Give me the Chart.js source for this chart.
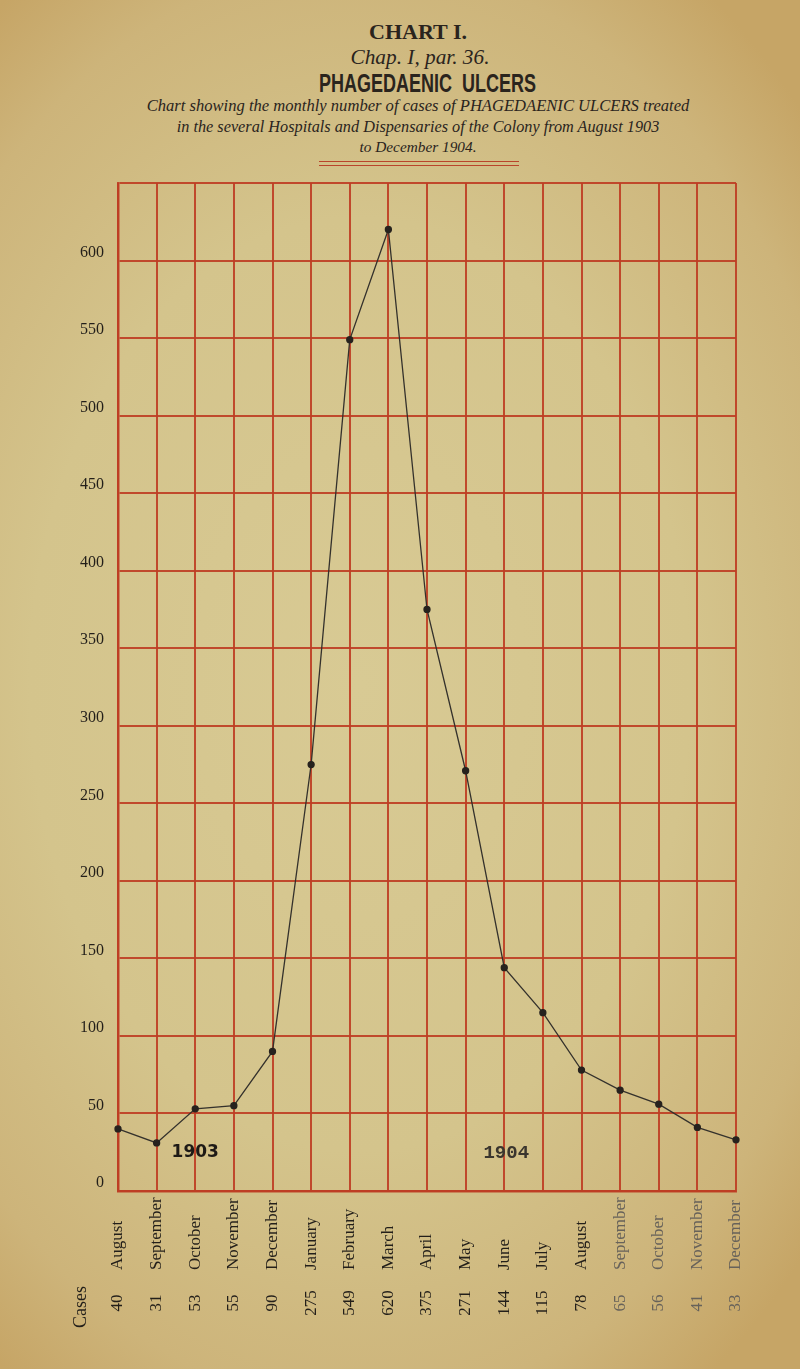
<!DOCTYPE html>
<html>
<head>
<meta charset="utf-8">
<script src="https://cdn.jsdelivr.net/npm/chart.js@4"></script>
<style>
  html, body { margin: 0; padding: 0; }
  body {
    width: 800px; height: 1369px; position: relative; overflow: hidden;
    background: radial-gradient(ellipse 75% 62% at 45% 50%, #d8ca94 0%, #d4c48c 55%, #cdb47a 85%, #c6a566 100%);
  }
  .t { position: absolute; left: 0; white-space: nowrap; color: #2a241d; line-height: 1; }
  .t span { display: inline-block; }
  #rule { position: absolute; left: 319px; width: 200px; top: 161px; height: 3px;
          border-top: 1.5px solid #b9452b; border-bottom: 1.5px solid #b9452b; }
  canvas { position: absolute; left: 0; top: 0; }
</style>
</head>
<body>
<div class="t" id="l1" style="font-family:'Liberation Serif'; font-weight:bold; font-size:22px;"><span>CHART I.</span></div>
<div class="t" id="l2" style="font-family:'Liberation Serif'; font-style:italic; font-size:19px;"><span>Chap. I, par. 36.</span></div>
<div class="t" id="l3" style="font-family:'Liberation Sans'; font-weight:bold; font-size:25px;"><span>PHAGEDAENIC&nbsp;&nbsp;ULCERS</span></div>
<div class="t" id="l4" style="font-family:'Liberation Serif'; font-style:italic; font-size:17px;"><span>Chart showing the monthly number of cases of PHAGEDAENIC ULCERS treated</span></div>
<div class="t" id="l5" style="font-family:'Liberation Serif'; font-style:italic; font-size:17px;"><span>in the several Hospitals and Dispensaries of the Colony from August 1903</span></div>
<div class="t" id="l6" style="font-family:'Liberation Serif'; font-style:italic; font-size:17px;"><span>to December 1904.</span></div>
<div id="rule"></div>
<canvas id="c" width="800" height="1369"></canvas>
<script>
// ---- data ----
const months = ['August','September','October','November','December','January','February','March','April','May','June','July','August','September','October','November','December'];
const cases = [40, 31, 53, 55, 90, 275, 549, 620, 375, 271, 144, 115, 78, 65, 56, 41, 33];
const yTickLabels = [0, 50, 100, 150, 200, 250, 300, 350, 400, 450, 500, 550, 600];
const yearLabels = ['1903', '1904'];
const casesTitle = 'Cases';

// ---- title fitting (center x, center y, target width, mode) ----
function place(id, cx, cy, w, condensed) {
  const el = document.getElementById(id);
  const sp = el.firstElementChild;
  const r = sp.getBoundingClientRect();
  if (condensed) {
    const s = w / r.width;
    sp.style.transform = 'scaleX(' + s + ')';
    sp.style.transformOrigin = 'left center';
    el.style.left = (cx - w / 2) + 'px';
  } else {
    const fs = parseFloat(el.style.fontSize) * w / r.width;
    el.style.fontSize = fs + 'px';
    const r2 = sp.getBoundingClientRect();
    el.style.left = (cx - r2.width / 2) + 'px';
  }
  const r3 = sp.getBoundingClientRect();
  el.style.top = (cy - r3.height / 2) + 'px';
}
place('l1', 418, 32, 98, true);
place('l2', 420, 58, 139, false);
place('l3', 427, 83, 217, true);
place('l4', 418, 106, 543, false);
place('l5', 418, 127, 483, false);
place('l6', 418, 147, 117, false);

const red = 'rgba(190, 62, 36, 0.92)';

const annotations = {
  id: 'annotations',
  afterDraw(chart) {
    const ctx = chart.ctx;
    const xs = chart.scales.x;
    const a = chart.chartArea;
    ctx.save();
    // month labels, reading upward, starting below the frame
    months.forEach((m, i) => {
      const px = xs.getPixelForValue(i);
      ctx.save();
      ctx.translate(px, a.bottom + 79);
      ctx.rotate(-Math.PI / 2);
      ctx.font = '17px "Liberation Serif"';
      ctx.fillStyle = i >= 13 ? '#67625a' : '#231f1a';
      ctx.textAlign = 'left';
      ctx.textBaseline = 'middle';
      ctx.fillText(m, 0, 0);
      ctx.restore();
      // case counts
      ctx.save();
      ctx.translate(px, a.bottom + 112);
      ctx.rotate(-Math.PI / 2);
      ctx.font = '17px "Liberation Serif"';
      ctx.fillStyle = i >= 13 ? '#67625a' : '#231f1a';
      ctx.textAlign = 'center';
      ctx.textBaseline = 'middle';
      ctx.fillText(String(cases[i]), 0, 0);
      ctx.restore();
    });
    // "Cases"
    ctx.save();
    ctx.translate(a.left - 37, a.bottom + 116);
    ctx.rotate(-Math.PI / 2);
    ctx.font = '18px "Liberation Serif"';
    ctx.fillStyle = '#231f1a';
    ctx.textAlign = 'center';
    ctx.textBaseline = 'middle';
    ctx.fillText(casesTitle, 0, 0);
    ctx.restore();
    // year marks inside the grid
    ctx.textAlign = 'center';
    ctx.textBaseline = 'middle';
    ctx.font = 'bold 17px "DejaVu Sans"';
    ctx.fillStyle = '#1e1a16';
    ctx.fillText(yearLabels[0], xs.getPixelForValue(2), a.bottom - 38);
    ctx.font = 'bold 19px "Liberation Mono"';
    ctx.fillStyle = '#3a352e';
    ctx.fillText(yearLabels[1], xs.getPixelForValue(10) + 2, a.bottom - 38);
    ctx.restore();
  }
};

new Chart(document.getElementById('c'), {
  type: 'line',
  data: {
    labels: months,
    datasets: [{
      data: cases,
      borderColor: '#34312c',
      borderWidth: 1.3,
      pointRadius: 3,
      pointBackgroundColor: '#26221e',
      pointBorderColor: '#26221e',
      tension: 0,
      clip: false
    }]
  },
  options: {
    responsive: false,
    animation: false,
    devicePixelRatio: 1,
    layout: { padding: { top: 183, right: 64, left: 0, bottom: 0 } },
    plugins: { legend: { display: false }, tooltip: { enabled: false }, title: { display: false } },
    scales: {
      x: {
        type: 'category',
        offset: false,
        grid: { color: red, lineWidth: 2, drawTicks: false },
        border: { color: red, width: 2.5 },
        ticks: { display: false },
        afterFit(scale) { scale.height = 178; }
      },
      y: {
        min: 0, max: 650,
        grid: { color: red, lineWidth: 2, drawTicks: false },
        border: { color: red, width: 2.5 },
        ticks: {
          stepSize: 50,
          padding: 14,
          labelOffset: -8,
          color: '#231f1a',
          font: { family: 'Liberation Serif', size: 16 },
          callback: (v) => yTickLabels.includes(v) ? String(v) : ''
        },
        afterFit(scale) { scale.width = 118; }
      }
    }
  },
  plugins: [annotations]
});
</script>
</body>
</html>
